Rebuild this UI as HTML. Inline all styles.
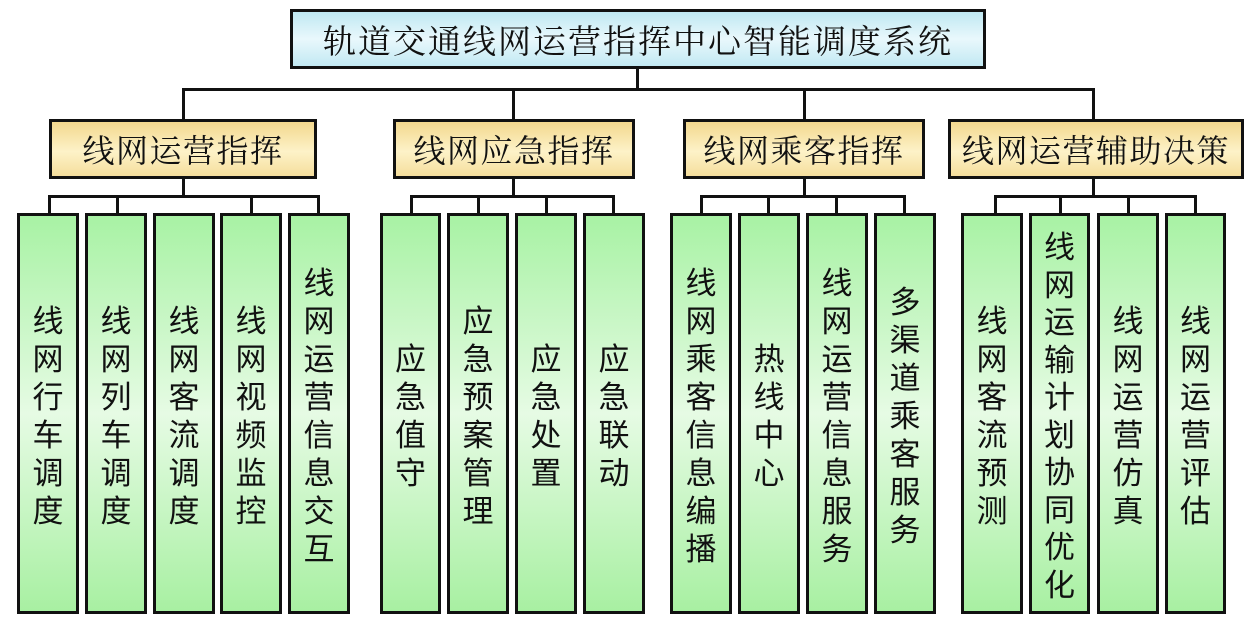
<!DOCTYPE html>
<html><head><meta charset="utf-8"><style>
body{margin:0;width:1260px;height:625px;background:#fff;position:relative;overflow:hidden;font-family:"Noto Sans CJK SC",sans-serif;color:#111}
.b{position:absolute;box-sizing:border-box;border:3px solid #111;display:flex;align-items:center;justify-content:center}
.t{left:290px;top:9px;width:696px;height:60px;background:linear-gradient(#bfe8f2,#e9f8fc 50%,#c2e9f3);font-size:33px;letter-spacing:2px;font-family:"Noto Serif CJK SC",serif}
.c{top:119px;height:60px;background:linear-gradient(#f3d88e,#fdf2c8 55%,#f5de9c);font-size:32px;letter-spacing:1.5px;font-family:"Noto Serif CJK SC",serif}
.g{top:213px;height:401px;background:linear-gradient(#a8f2a4,#e6fbe4 50%,#a8f0a2);font-size:31px;line-height:38px;text-align:center}
.g span{width:34px;display:block;line-height:inherit}
.l{position:absolute;background:#111}
</style></head><body>
<div class="b t">轨道交通线网运营指挥中心智能调度系统</div>
<div class="l" style="left:636px;top:68px;width:3px;height:22px"></div>
<div class="l" style="left:182px;top:88px;width:913px;height:3px"></div>
<div class="l" style="left:182px;top:88px;width:3px;height:32px"></div>
<div class="l" style="left:512px;top:88px;width:3px;height:32px"></div>
<div class="l" style="left:803px;top:88px;width:3px;height:32px"></div>
<div class="l" style="left:1092px;top:88px;width:3px;height:32px"></div>

<div class="b c" style="left:49px;width:268px">线网运营指挥</div>
<div class="b c" style="left:393px;width:242px">线网应急指挥</div>
<div class="b c" style="left:683px;width:242px">线网乘客指挥</div>
<div class="b c" style="left:948px;width:296px">线网运营辅助决策</div>

<div class="l" style="left:182px;top:178px;width:3px;height:19px"></div>
<div class="l" style="left:48px;top:195px;width:272px;height:3px"></div>
<div class="l" style="left:512px;top:178px;width:3px;height:19px"></div>
<div class="l" style="left:410px;top:195px;width:205px;height:3px"></div>
<div class="l" style="left:803px;top:178px;width:3px;height:19px"></div>
<div class="l" style="left:700px;top:195px;width:205px;height:3px"></div>
<div class="l" style="left:1092px;top:178px;width:3px;height:19px"></div>
<div class="l" style="left:994px;top:195px;width:202px;height:3px"></div>

<div class="l" style="left:48px;top:195px;width:3px;height:20px"></div>
<div class="l" style="left:116px;top:195px;width:3px;height:20px"></div>
<div class="l" style="left:250px;top:195px;width:3px;height:20px"></div>
<div class="l" style="left:317px;top:195px;width:3px;height:20px"></div>
<div class="l" style="left:410px;top:195px;width:3px;height:20px"></div>
<div class="l" style="left:477px;top:195px;width:3px;height:20px"></div>
<div class="l" style="left:545px;top:195px;width:3px;height:20px"></div>
<div class="l" style="left:612px;top:195px;width:3px;height:20px"></div>
<div class="l" style="left:700px;top:195px;width:3px;height:20px"></div>
<div class="l" style="left:767px;top:195px;width:3px;height:20px"></div>
<div class="l" style="left:835px;top:195px;width:3px;height:20px"></div>
<div class="l" style="left:903px;top:195px;width:3px;height:20px"></div>
<div class="l" style="left:994px;top:195px;width:3px;height:20px"></div>
<div class="l" style="left:1059px;top:195px;width:3px;height:20px"></div>
<div class="l" style="left:1127px;top:195px;width:3px;height:20px"></div>
<div class="l" style="left:1194px;top:195px;width:3px;height:20px"></div>

<div class="b g" style="left:17px;width:62px"><span>线网行车调度</span></div>
<div class="b g" style="left:85px;width:62px"><span>线网列车调度</span></div>
<div class="b g" style="left:153px;width:62px"><span>线网客流调度</span></div>
<div class="b g" style="left:220px;width:62px"><span>线网视频监控</span></div>
<div class="b g" style="left:288px;width:62px"><span>线网运营信息交互</span></div>

<div class="b g" style="left:380px;width:61px"><span>应急值守</span></div>
<div class="b g" style="left:447px;width:62px"><span>应急预案管理</span></div>
<div class="b g" style="left:515px;width:62px"><span>应急处置</span></div>
<div class="b g" style="left:583px;width:62px"><span>应急联动</span></div>

<div class="b g" style="left:670px;width:62px"><span>线网乘客信息编播</span></div>
<div class="b g" style="left:738px;width:62px"><span>热线中心</span></div>
<div class="b g" style="left:806px;width:62px"><span>线网运营信息服务</span></div>
<div class="b g" style="left:874px;width:62px"><span>多渠道乘客服务</span></div>

<div class="b g" style="left:961px;width:62px"><span>线网客流预测</span></div>
<div class="b g" style="left:1029px;width:61px;line-height:37.5px"><span>线网运输计划协同优化</span></div>
<div class="b g" style="left:1097px;width:62px"><span>线网运营仿真</span></div>
<div class="b g" style="left:1165px;width:61px"><span>线网运营评估</span></div>
</body></html>
